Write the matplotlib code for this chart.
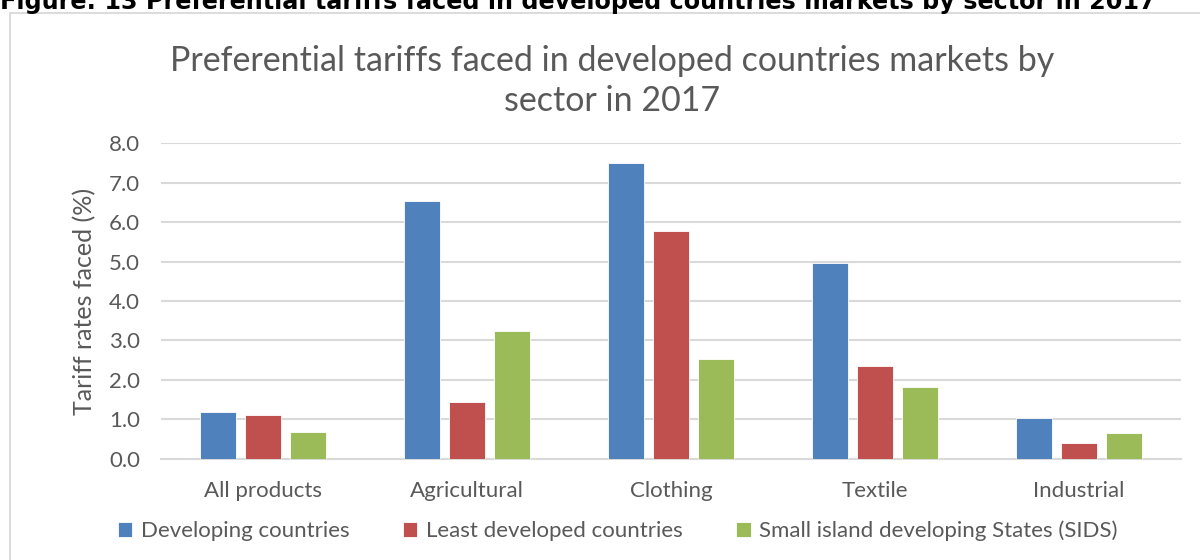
import numpy as np
import matplotlib
matplotlib.use('Agg')
import matplotlib.pyplot as plt
from matplotlib.patches import Rectangle

plt.rcParams['font.family'] = ['Lato', 'DejaVu Sans']

sectors = ['All products', 'Agricultural', 'Clothing', 'Textile', 'Industrial']
developing = [1.18, 6.53, 7.51, 4.96, 1.03]
least_developed = [1.10, 1.44, 5.77, 2.36, 0.41]
sids = [0.68, 3.25, 2.54, 1.83, 0.66]
series_names = ['Developing countries', 'Least developed countries',
                'Small island developing States (SIDS)']
series_colors = ['#4F81BD', '#C0504D', '#9BBB59']
y_ticks = [0, 1, 2, 3, 4, 5, 6, 7, 8]

heading = 'Figure: 13 Preferential tariffs faced in developed countries markets by sector in 2017'
chart_title = 'Preferential tariffs faced in developed countries markets by\nsector in 2017'

GRAY = '#595959'
GRID = '#d9d9d9'


def draw_chart():
    fig = plt.figure(figsize=(12, 5.6), dpi=100)
    fig.patch.set_facecolor('white')

    # chart border
    fig.patches.append(Rectangle((10 / 1200, -0.1), 1.2, 1 - 13 / 560 + 0.1,
                                 transform=fig.transFigure, fill=False,
                                 edgecolor=GRID, linewidth=1.3))

    # figure caption, partly above the top edge
    fig.text(0.0, 1 - 9.5 / 560, heading, fontsize=17.2, fontweight='bold',
             family=['DejaVu Sans'], color='black', ha='left', va='baseline')

    fig.text(612 / 1200, 1 - 81 / 560, chart_title, fontsize=24.5, color=GRAY,
             ha='center', va='center', linespacing=1.33)

    ax = fig.add_axes([161 / 1200, 1 - 458.7 / 560, 1020 / 1200, 315.4 / 560])
    x = np.arange(len(sectors))
    width = 0.176
    step = 0.22
    for i, (vals, name, col) in enumerate(zip([developing, least_developed, sids],
                                              series_names, series_colors)):
        ax.bar(x + (i - 1) * step, vals, width, color=col, label=name,
               edgecolor='white', linewidth=0.6, zorder=3)

    ax.set_xlim(-0.5, len(sectors) - 0.5)
    ax.set_ylim(0, 8)
    ax.set_yticks(y_ticks)
    ax.set_yticklabels([f'{t:.1f}' for t in y_ticks])
    ax.set_xticks(x)
    ax.set_xticklabels(sectors)
    ax.tick_params(axis='both', length=0, labelsize=16, colors=GRAY)
    ax.tick_params(axis='x', pad=16)
    ax.tick_params(axis='y', pad=15)
    ax.yaxis.grid(True, color=GRID, linewidth=1.5, zorder=0)
    ax.set_axisbelow(True)
    for s in ['top', 'right', 'left']:
        ax.spines[s].set_visible(False)
    ax.spines['bottom'].set_color(GRID)
    ax.spines['bottom'].set_linewidth(1.5)
    ax.set_ylabel('Tariff rates faced (%)', fontsize=18, color=GRAY, labelpad=9)

    leg = fig.legend(loc='center', bbox_to_anchor=(618 / 1200, 1 - 531 / 560),
                     ncol=3, frameon=False, fontsize=16, handlelength=0.64,
                     handleheight=0.64, handletextpad=0.4, columnspacing=2.4)
    for t in leg.get_texts():
        t.set_color(GRAY)

    fig.savefig('out.png', dpi=100)


draw_chart()
